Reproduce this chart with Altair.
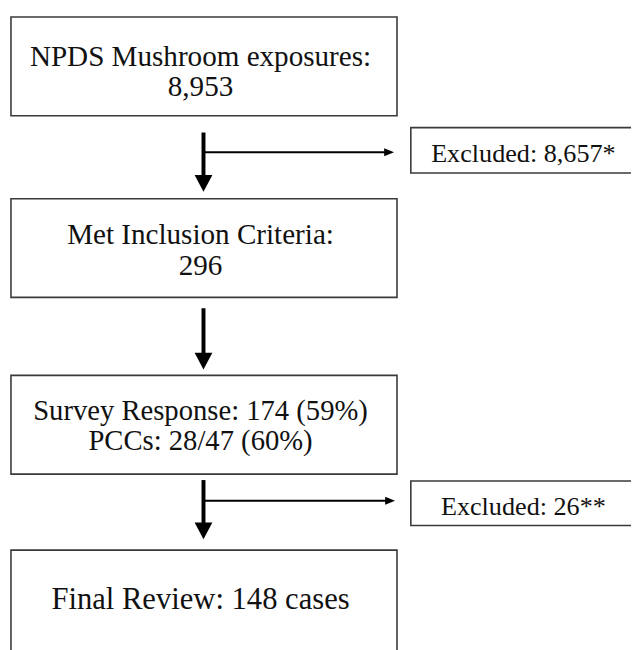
import altair as alt
import pandas as pd

# ---- content ----
main_lines = [
    ["NPDS Mushroom exposures:", "8,953"],
    ["Met Inclusion Criteria:", "296"],
    ["Survey Response: 174 (59%)", "PCCs: 28/47 (60%)"],
    ["Final Review: 148 cases"],
]
excluded_labels = ["Excluded: 8,657*", "Excluded: 26**"]

# ---- layout (diagram coordinates, pixel-like units) ----
main_x = [11, 402]
main_top = [13, 197, 376, 553]
main_bottom = [113, 297, 476, 662]
main_baselines = [[63, 93], [243, 274], [421, 452], [613]]
main_font = [29.5, 29.5, 29, 31]
main_text_x = 203

excl_x = [416, 642]
excl_top = [125, 483]
excl_bottom = [171, 528]
excl_baseline = [160, 517]
excl_text_x = 530

trunk_x = 206
trunk_top = [130, 308, 482]
trunk_tip = [190, 370, 542]
branch_y = [150, 503]
branch_end = [399, 400]

FONT = "'Liberation Serif', 'Times New Roman', 'DejaVu Serif', serif"

boxes = pd.DataFrame(
    [dict(x=main_x[0], x2=main_x[1], y=t, y2=b) for t, b in zip(main_top, main_bottom)]
    + [dict(x=excl_x[0], x2=excl_x[1], y=t, y2=b) for t, b in zip(excl_top, excl_bottom)]
)

main_text = pd.DataFrame(
    [dict(x=main_text_x, y=yb, label=l, fs=fs)
     for lines, ybs, fs in zip(main_lines, main_baselines, main_font)
     for l, yb in zip(lines, ybs)]
)
excl_text = pd.DataFrame(
    [dict(x=excl_text_x, y=yb, label=l) for l, yb in zip(excluded_labels, excl_baseline)]
)

trunks = pd.DataFrame([dict(x=trunk_x, y=t, y2=tip - 14) for t, tip in zip(trunk_top, trunk_tip)])
trunk_heads = pd.DataFrame([dict(x=trunk_x, y=tip - 8.5) for tip in trunk_tip])
branches = pd.DataFrame([dict(x=trunk_x, x2=e - 8, y=y) for y, e in zip(branch_y, branch_end)])
branch_heads = pd.DataFrame([dict(x=e - 5, y=y) for y, e in zip(branch_y, branch_end)])

W, H = 631, 642
xs = alt.Scale(domain=[8, 639], range=[0, W], nice=False, zero=False)
ys = alt.Scale(domain=[8, 650], range=[0, H], nice=False, zero=False)
X = lambda f: alt.X(f, type="quantitative", scale=xs, axis=None)
Y = lambda f: alt.Y(f, type="quantitative", scale=ys, axis=None)

box_layer = alt.Chart(boxes).mark_rect(fill="white", stroke="#3a3a3a", strokeWidth=1.6).encode(
    x=X("x"), x2="x2", y=Y("y"), y2="y2"
)
main_text_layer = alt.Chart(main_text).mark_text(
    font=FONT, align="center", baseline="alphabetic", color="#111"
).encode(
    x=X("x"), y=Y("y"), text="label:N",
    size=alt.Size("fs:Q", scale=None, legend=None),
)
excl_text_layer = alt.Chart(excl_text).mark_text(
    font=FONT, fontSize=26.5, align="center", baseline="alphabetic", color="#111"
).encode(x=X("x"), y=Y("y"), text="label:N")

trunk_layer = alt.Chart(trunks).mark_rule(color="black", strokeWidth=4).encode(
    x=X("x"), y=Y("y"), y2="y2"
)
trunk_head_layer = alt.Chart(trunk_heads).mark_point(
    shape="M -1 -0.95 L 1 -0.95 L 0 0.95 Z", filled=True, fill="black", opacity=1, size=324, strokeWidth=0
).encode(x=X("x"), y=Y("y"))
branch_layer = alt.Chart(branches).mark_rule(color="black", strokeWidth=2).encode(
    x=X("x"), x2="x2", y=Y("y")
)
branch_head_layer = alt.Chart(branch_heads).mark_point(
    shape="M -1 -0.8 L 1 0 L -1 0.8 Z", filled=True, fill="black", opacity=1, size=100, strokeWidth=0
).encode(x=X("x"), y=Y("y"))

chart = alt.layer(
    box_layer, main_text_layer, excl_text_layer,
    trunk_layer, trunk_head_layer, branch_layer, branch_head_layer
).properties(
    width=W, height=H, autosize=alt.AutoSizeParams(type="none"), padding=0
).configure_view(stroke=None)

chart.save("out.html", embed_options={"renderer": "svg", "actions": False})
